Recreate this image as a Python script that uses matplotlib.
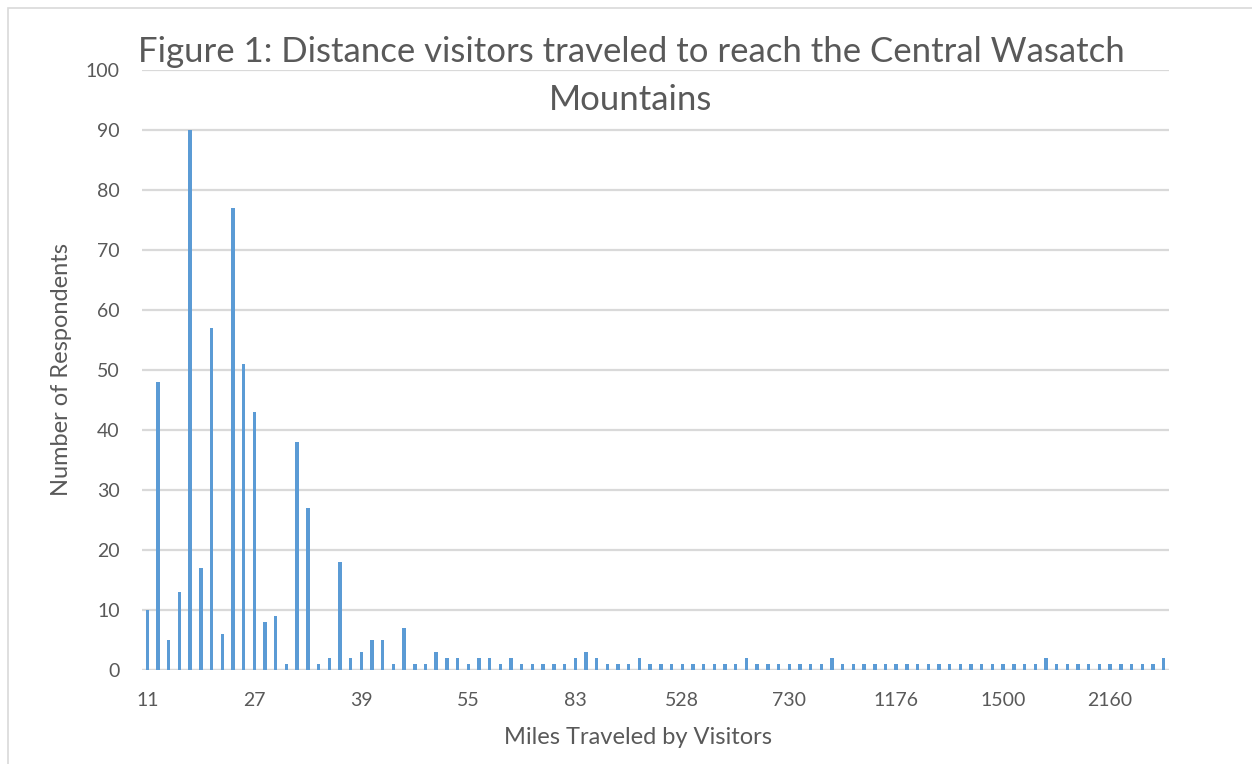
import numpy as np
import matplotlib.pyplot as plt
from matplotlib.patches import Rectangle

# respondents per distance category (one bar each, 96 bars)
counts = [10, 48, 5, 13, 90, 17, 57, 6, 77, 51,
          43, 8, 9, 1, 38, 27, 1, 2, 18, 2,
          3, 5, 5, 1, 7, 1, 1, 3, 2, 2,
          1, 2, 2, 1, 2, 1, 1, 1, 1, 1,
          2, 3, 2, 1, 1, 1, 2, 1, 1, 1,
          1, 1, 1, 1, 1, 1, 2, 1, 1, 1,
          1, 1, 1, 1, 2, 1, 1, 1, 1, 1,
          1, 1, 1, 1, 1, 1, 1, 1, 1, 1,
          1, 1, 1, 1, 2, 1, 1, 1, 1, 1,
          1, 1, 1, 1, 1, 2]
# only every 10th category label is shown on the axis
tick_labels = ['11', '27', '39', '55', '83', '528', '730', '1176', '1500', '2160']
y_ticks = list(range(0, 101, 10))

plt.rcParams['font.family'] = ['Lato', 'DejaVu Sans']
grey = '#595959'
grid = '#d9d9d9'

fig = plt.figure(figsize=(12.52, 7.64), dpi=100)
fig.patches.append(Rectangle((8 / 1252, -0.01), 1.02, 1 - 8 / 764 + 0.01,
                             transform=fig.transFigure, fill=False,
                             edgecolor='#d9d9d9', linewidth=1.2))
ax = fig.add_axes([142 / 1252, 94 / 764, 1027 / 1252, 600 / 764])

x = np.arange(len(counts))
ax.bar(x, counts, width=0.32, color='#5b9bd5', zorder=3)

ax.set_xlim(-0.5, len(counts) - 0.5)
ax.set_ylim(0, 100)
ax.set_yticks(y_ticks)
ax.set_xticks(x[::10])
ax.set_xticklabels(tick_labels)
ax.tick_params(length=0, labelsize=14, colors=grey)
ax.tick_params(axis='y', pad=16)
ax.tick_params(axis='x', pad=16)
ax.yaxis.grid(True, color=grid, linewidth=1.6, zorder=0)
for key, spine in ax.spines.items():
    spine.set_visible(False)
ax.axhline(0, color=grid, linewidth=1.6, zorder=2)

ax.set_xlabel('Miles Traveled by Visitors', fontsize=17, color=grey, va='center')
ax.xaxis.set_label_coords(0.4825, -0.112)
ax.set_ylabel('Number of Respondents', fontsize=17, color=grey, va='center')
ax.yaxis.set_label_coords(-0.078, 0.5)

fig.text(631 / 1252, 1 - 52 / 764,
         'Figure 1: Distance visitors traveled to reach the Central Wasatch',
         ha='center', va='center', fontsize=25, color=grey)
fig.text(631 / 1252, 1 - 100 / 764, 'Mountains',
         ha='center', va='center', fontsize=25, color=grey)

fig.savefig('out.png', dpi=100)
